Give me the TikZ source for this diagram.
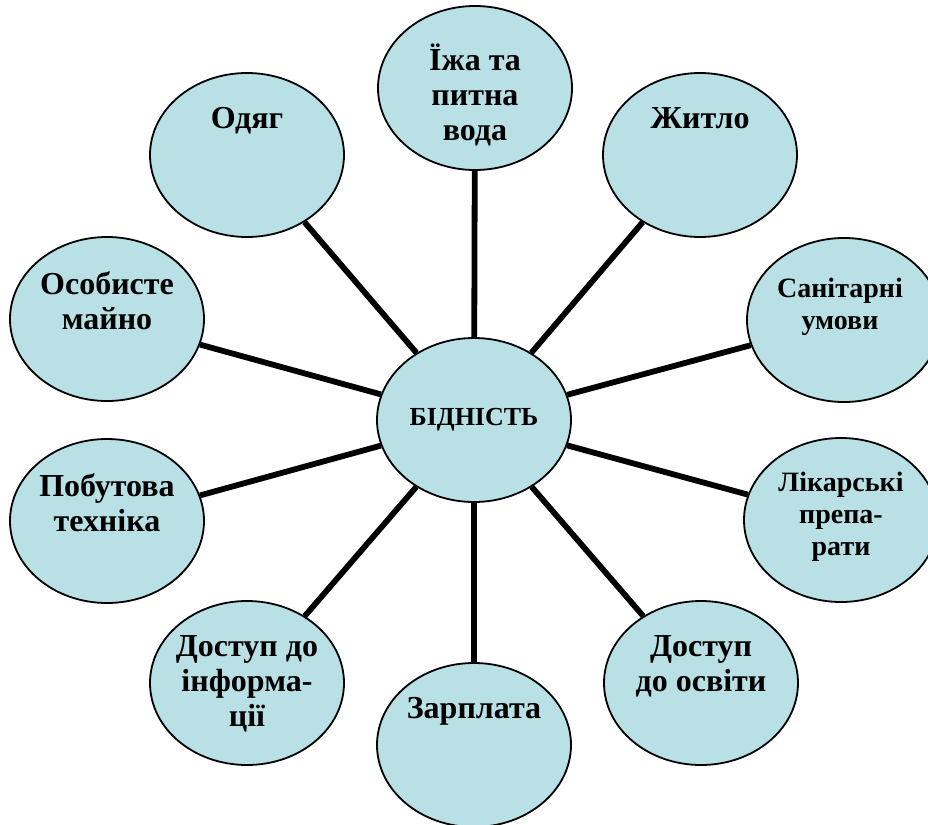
\documentclass[tikz,border=0pt]{standalone}
\usepackage{fontspec}
\setmainfont{Liberation Serif}
\usepackage{xcolor}
\usetikzlibrary{shapes.geometric,positioning,backgrounds}
\definecolor{bubbleteal}{RGB}{185,224,228}

\begin{document}
\begin{tikzpicture}[x=0.5pt,y=-0.5pt,
    bubble/.style={draw, ellipse, fill=bubbleteal, line width=0.9pt,
      minimum width=97pt, minimum height=82pt, inner sep=0pt},
    lbl/.style={anchor=north, align=center, inner sep=0pt, yshift=-17.5pt,
      font=\fontsize{16}{17.5}\selectfont\bfseries},
    smalllbl/.style={lbl, font=\fontsize{14}{16}\selectfont\bfseries},
    spoke/.style={line width=2.9pt}]
    \useasboundingbox (0,0) rectangle (928,825);

    % outer bubbles
    \node[bubble] (food) at (475,88) {};
    \node[bubble] (housing) at (700,155) {};
    \node[bubble] (sanit) at (844,320) {};
    \node[bubble] (meds) at (841,520) {};
    \node[bubble] (edu) at (701,683) {};
    \node[bubble] (salary) at (474,745) {};
    \node[bubble] (info) at (247,683) {};
    \node[bubble] (appliance) at (107,521) {};
    \node[bubble] (property) at (107,319) {};
    \node[bubble] (clothes) at (247,155) {};

    % centre
    \node[bubble, font=\fontsize{13}{15}\selectfont\bfseries] (poverty) at (474,420) {БІДНІСТЬ};

    % spokes
    \begin{scope}[on background layer]
        \foreach \b in {food,housing,sanit,meds,edu,salary,info,appliance,property,clothes}
            \draw[spoke] (poverty) -- (\b);
    \end{scope}

    % labels
    \node[lbl, yshift=-1.5pt] (foodtxt) at (food.north) {Їжа та\\питна\\вода};
    \node[lbl] (housingtxt) at (housing.north) {Житло};
    \node[smalllbl, yshift=-3pt, xshift=-2pt] (sanittxt) at (sanit.north) {Санітарні\\умови};
    \node[smalllbl] (medstxt) at (meds.north) {Лікарські\\препа-\\рати};
    \node[lbl] (edutxt) at (edu.north) {Доступ\\до освіти};
    \node[lbl] (salarytxt) at (salary.north) {Зарплата};
    \node[lbl] (infotxt) at (info.north) {Доступ до\\інформа-\\ції};
    \node[lbl] (appliancetxt) at (appliance.north) {Побутова\\техніка};
    \node[lbl] (propertytxt) at (property.north) {Особисте\\майно};
    \node[lbl] (clothestxt) at (clothes.north) {Одяг};
\end{tikzpicture}
\end{document}
